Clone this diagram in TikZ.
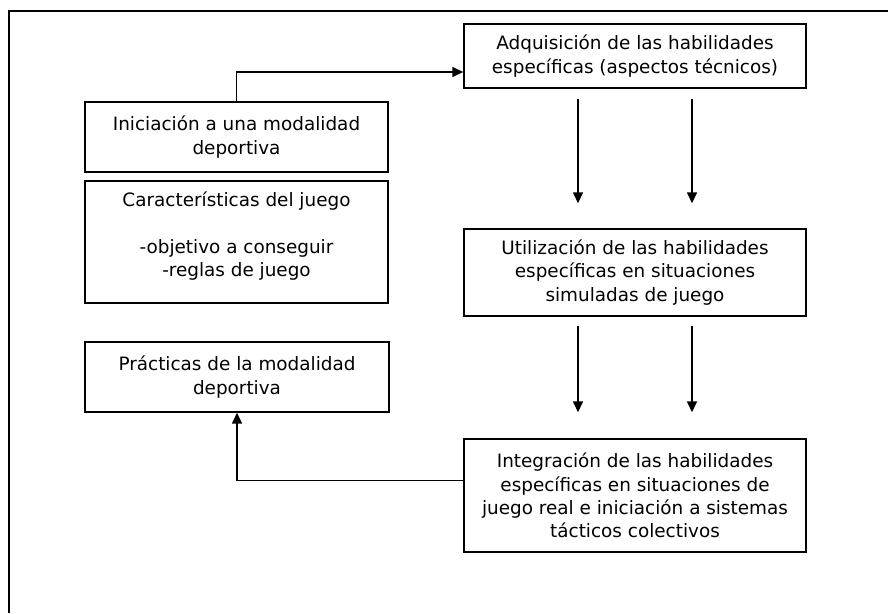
\documentclass[tikz,border=0pt]{standalone}
\usepackage{fontspec}
\setmainfont{DejaVu Sans}
\usetikzlibrary{arrows.meta}

\begin{document}
\begin{tikzpicture}[x=1pt,y=-1pt,
	caja/.style={draw,line width=1.4pt,align=center,inner sep=0pt,
		font=\fontsize{18.4pt}{23.3pt}\selectfont},
	flecha/.style={line width=1.5pt,-{Triangle[length=11pt,width=10pt]}}]
	\useasboundingbox (0,0) rectangle (888,613);
	\draw[line width=1.2pt] (888,11) -- (9,11) -- (9,613);
	
	\node[caja,minimum width=303pt,minimum height=70pt] (ini) at (236.5,137) {Iniciación a una modalidad\\deportiva};
	\node[caja,minimum width=303pt,minimum height=122pt] (car) at (236.5,242) {Características del juego\\[23.3pt]-objetivo a conseguir\\-reglas de juego\\[-8pt]};
	\node[caja,minimum width=304pt,minimum height=70pt] (pra) at (237,377) {Prácticas de la modalidad\\deportiva};
	
	\node[caja,minimum width=342pt,minimum height=64pt] (adq) at (635,56) {Adquisición de las habilidades\\específicas (aspectos técnicos)};
	\node[caja,minimum width=342pt,minimum height=87pt] (uti) at (635,272.5) {Utilización de las habilidades\\específicas en situaciones\\simuladas de juego};
	\node[caja,minimum width=342pt,minimum height=113pt] (int) at (635,495.5) {Integración de las habilidades\\específicas en situaciones de\\juego real e iniciación a sistemas\\tácticos colectivos};
	
	\draw[flecha] (ini.north) |- ([yshift=-16pt]adq.west);
	\draw[flecha] ([xshift=-57pt,yshift=-10pt]adq.south) -- ([xshift=-57pt,yshift=25pt]uti.north);
	\draw[flecha] ([xshift=57pt,yshift=-10pt]adq.south) -- ([xshift=57pt,yshift=25pt]uti.north);
	\draw[flecha] ([xshift=-57pt,yshift=-9pt]uti.south) -- ([xshift=-57pt,yshift=26pt]int.north);
	\draw[flecha] ([xshift=57pt,yshift=-9pt]uti.south) -- ([xshift=57pt,yshift=26pt]int.north);
	\draw[flecha] ([yshift=15pt]int.west) -| (pra.south);
\end{tikzpicture}
\end{document}
